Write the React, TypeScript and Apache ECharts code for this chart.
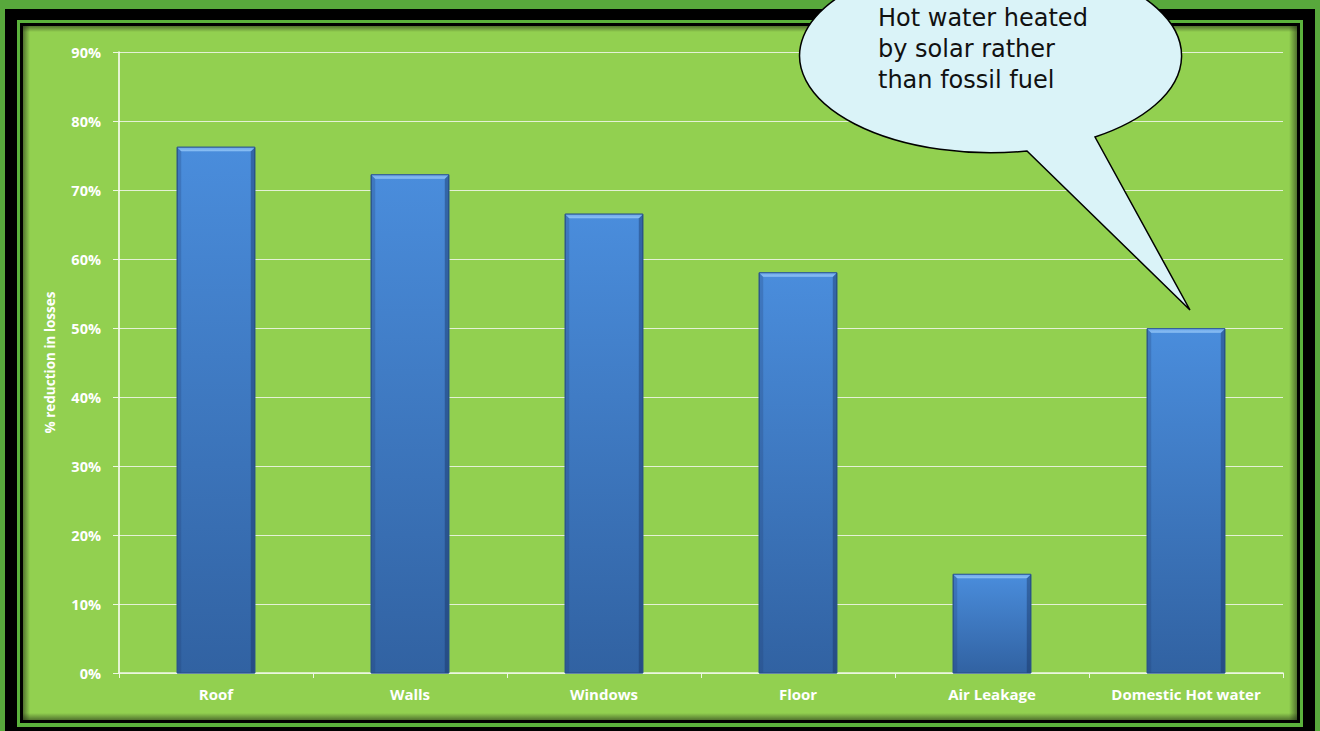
import React, { useEffect, useRef } from "react";
import * as echarts from "echarts";

const categories = ["Roof", "Walls", "Windows", "Floor", "Air Leakage", "Domestic Hot water"];
const reductionPct = [76.2, 72.2, 66.5, 58.0, 14.3, 49.9];
const axisTitle = "% reduction in losses";
const calloutLines = ["Hot water heated", "by solar rather", "than fossil fuel"];

const BUBBLE_D = "M 1095 137 A 191 97 0 1 0 1027 151 L 1190 310 Z";
echarts.graphic.registerShape("bubble", echarts.graphic.extendPath(BUBBLE_D, {}));

const W = 1320;
const H = 731;
const LABEL_FONT = "'Open Sans', Lato, sans-serif";

function edgeShadow(x: number, y: number, w: number, h: number, dir: "l" | "r" | "t" | "b") {
  const c = {
    l: { x: 0, y: 0, x2: 1, y2: 0 },
    r: { x: 1, y: 0, x2: 0, y2: 0 },
    t: { x: 0, y: 0, x2: 0, y2: 1 },
    b: { x: 0, y: 1, x2: 0, y2: 0 },
  }[dir];
  return {
    type: "rect",
    z: -5,
    silent: true,
    shape: { x, y, width: w, height: h },
    style: {
      fill: new echarts.graphic.LinearGradient(c.x, c.y, c.x2, c.y2, [
        { offset: 0, color: "rgba(30,40,20,0.55)" },
        { offset: 1, color: "rgba(30,40,20,0)" },
      ]),
    },
  };
}

function renderBevelBar(params: any, api: any) {
  const idx = api.value(0);
  const val = api.value(1);
  const top = api.coord([idx, val]);
  const base = api.coord([idx, 0]);
  const band = api.size([1, 0])[0];
  const w = band * 0.4;
  const x = top[0] - w / 2;
  const y = top[1];
  const h = base[1] - top[1];
  const b = 4;
  return {
    type: "group",
    children: [
      {
        type: "rect",
        shape: { x, y, width: w, height: h },
        style: {
          fill: new echarts.graphic.LinearGradient(0, 0, 0, 1, [
            { offset: 0, color: "#4a8ddc" },
            { offset: 1, color: "#3162a2" },
          ]),
          stroke: "#2e5a92",
          lineWidth: 1,
        },
      },
      {
        type: "polygon",
        shape: { points: [[x, y], [x + b, y + b], [x + b, y + h], [x, y + h]] },
        style: { fill: "rgba(30,60,110,0.25)" },
      },
      {
        type: "polygon",
        shape: { points: [[x + w, y], [x + w - b, y + b], [x + w - b, y + h], [x + w, y + h]] },
        style: { fill: "rgba(20,45,90,0.4)" },
      },
      {
        type: "polygon",
        shape: { points: [[x, y], [x + w, y], [x + w - b, y + b], [x + b, y + b]] },
        style: {
          fill: new echarts.graphic.LinearGradient(0, 0, 0, 1, [
            { offset: 0, color: "#6aa6ea" },
            { offset: 1, color: "#8cc0f4" },
          ]),
        },
      },
      {
        type: "rect",
        shape: { x, y, width: w, height: h },
        style: { fill: "none", stroke: "rgba(40,80,140,0.8)", lineWidth: 1 },
      },
    ],
  };
}

export default function App() {
  const ref = useRef<HTMLDivElement>(null);

  useEffect(() => {
    document.body.style.margin = "0";
    if (!ref.current) return;
    const chart = echarts.init(ref.current, null, { renderer: "svg" });
    const cx0 = 23, cy0 = 26, cx1 = 1297, cy1 = 720;
    const option = {
      animation: false,
      backgroundColor: "#58a83c",
      grid: { left: 119, top: 52, right: W - 1283, bottom: H - 673, containLabel: false },
      xAxis: {
        type: "category",
        data: categories,
        axisLine: { show: true, lineStyle: { color: "#eef7e4", width: 1.5 } },
        axisTick: { show: true, length: 5, lineStyle: { color: "#eef7e4" } },
        axisLabel: {
          color: "#ffffff",
          fontFamily: LABEL_FONT,
          fontWeight: "bold",
          fontSize: 15,
          margin: 13,
          interval: 0,
        },
      },
      yAxis: {
        type: "value",
        min: 0,
        max: 90,
        interval: 10,
        name: axisTitle,
        nameLocation: "middle",
        nameRotate: 90,
        nameGap: 62,
        nameTextStyle: {
          color: "#ffffff",
          fontFamily: LABEL_FONT,
          fontWeight: "bold",
          fontSize: 13.5,
        },
        axisLine: { show: true, lineStyle: { color: "#ffffff", width: 1.5 } },
        axisTick: { show: true, length: 6, lineStyle: { color: "#eef7e4" } },
        splitLine: { show: true, lineStyle: { color: "#e4f1d6", width: 1 } },
        axisLabel: {
          color: "#ffffff",
          fontFamily: LABEL_FONT,
          fontWeight: "bold",
          fontSize: 14.5,
          margin: 18,
          formatter: "{value}%",
        },
      },
      series: [
        {
          type: "custom",
          name: axisTitle,
          data: reductionPct.map((v, i) => [i, v]),
          encode: { x: 0, y: 1 },
          renderItem: renderBevelBar,
          z: 3,
        },
      ],
      graphic: [
        { type: "rect", z: -20, silent: true, shape: { x: 5, y: 9, width: 1310, height: 740 }, style: { fill: "#000000" } },
        { type: "rect", z: -19, silent: true, shape: { x: 17, y: 20, width: 1286, height: 707 }, style: { fill: "#5bb23c" } },
        { type: "rect", z: -18, silent: true, shape: { x: 20, y: 23, width: 1280, height: 700 }, style: { fill: "#000000" } },
        { type: "rect", z: -17, silent: true, shape: { x: cx0, y: cy0, width: cx1 - cx0, height: cy1 - cy0 }, style: { fill: "#92d050" } },
        edgeShadow(cx0, cy0, 7, cy1 - cy0, "l"),
        edgeShadow(cx1 - 8, cy0, 8, cy1 - cy0, "r"),
        edgeShadow(cx0, cy0, cx1 - cx0, 6, "t"),
        edgeShadow(cx0, cy1 - 7, cx1 - cx0, 7, "b"),
        {
          type: "bubble",
          z: 100,
          silent: true,
          x: 0,
          y: 0,
          style: { fill: "#daf3f8", stroke: "#000000", lineWidth: 1.5 },
        },
        {
          type: "text",
          z: 101,
          silent: true,
          x: 878,
          y: 2,
          style: {
            text: calloutLines.join("\n"),
            font: "24px 'DejaVu Sans', Verdana, sans-serif",
            fill: "#111111",
            lineHeight: 31,
            textVerticalAlign: "top",
          },
        },
      ],
    };
    chart.setOption(option as any);
    return () => chart.dispose();
  }, []);

  return <div ref={ref} style={{ width: W, height: H }} />;
}
